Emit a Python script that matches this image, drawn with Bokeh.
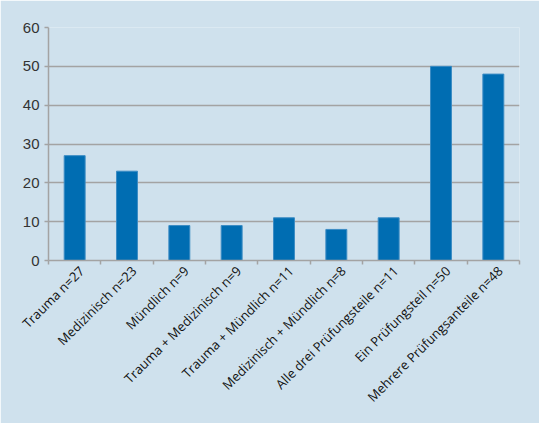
import math
from bokeh.plotting import figure
from bokeh.models import Range1d, FixedTicker, ColumnDataSource, LinearAxis
from bokeh.embed import file_html
from bokeh.resources import INLINE

categories = ["Trauma", "Medizinisch", "Mündlich", "Trauma + Medizinisch",
              "Trauma + Mündlich", "Medizinisch + Mündlich",
              "Alle drei Prüfungsteile", "Ein Prüfungsteil", "Mehrere Prüfungsanteile"]
values = [27, 23, 9, 9, 11, 8, 11, 50, 48]
y_ticks = [0, 10, 20, 30, 40, 50, 60]

labels = [f"{c} n={v}" for c, v in zip(categories, values)]
xs = list(range(len(categories)))
n = len(categories)

BG = "#cfe1ed"
GRID = "#a3a3a3"

W, H = 539, 423
LEFT, RIGHT, TOP, BOTTOM = 48, 20, 27, 163

p = figure(width=W, height=H, output_backend="svg", toolbar_location=None,
           x_range=Range1d(-0.5, n - 0.5), y_range=Range1d(0, 60),
           x_axis_location=None,
           min_border_left=LEFT, min_border_right=RIGHT, min_border_top=TOP, min_border_bottom=BOTTOM)
p.background_fill_color = BG
p.border_fill_color = BG
p.outline_line_color = None

src = ColumnDataSource(dict(x=xs, top=values))
p.vbar(x="x", top="top", width=0.4, source=src, fill_color="#006db2",
       line_color="#3b8cc4", line_width=1)

# y axis
p.yaxis.ticker = FixedTicker(ticks=y_ticks)
p.yaxis.axis_line_color = GRID
p.yaxis.axis_line_width = 1.5
p.yaxis.major_tick_line_color = GRID
p.yaxis.major_tick_line_width = 1.5
p.yaxis.major_tick_in = 0
p.yaxis.major_tick_out = 4
p.yaxis.minor_tick_line_color = None
p.yaxis.major_label_text_font = "Liberation Sans"
p.yaxis.major_label_text_font_size = "15px"
p.yaxis.major_label_text_color = "#333333"
p.yaxis.major_label_standoff = 5

p.ygrid.ticker = FixedTicker(ticks=y_ticks)
p.ygrid.grid_line_color = GRID
p.ygrid.grid_line_width = 1.5
p.xgrid.grid_line_color = None

# x axis on a slightly shifted range so that rotated labels sit a little right of bar centres
frame_w = W - LEFT - RIGHT
d = 7.0 / (frame_w / n)
p.extra_x_ranges = {"lab": Range1d(-0.5 - d, n - 0.5 - d)}
xax = LinearAxis(x_range_name="lab")
xax.ticker = FixedTicker(ticks=xs, minor_ticks=[i - 0.5 - d for i in range(n + 1)])
xax.major_label_overrides = {i: l for i, l in zip(xs, labels)}
xax.major_label_orientation = math.pi / 4
xax.major_label_text_font = "Open Sans"
xax.major_label_text_font_size = "13px"
xax.major_label_text_color = "#111111"
xax.major_label_standoff = 2
xax.axis_line_color = GRID
xax.axis_line_width = 1.5
xax.major_tick_line_color = None
xax.minor_tick_line_color = GRID
xax.minor_tick_line_width = 1.5
xax.minor_tick_in = 0
xax.minor_tick_out = 4
p.add_layout(xax, "below")

open("out.html", "w").write(file_html(p, INLINE))
